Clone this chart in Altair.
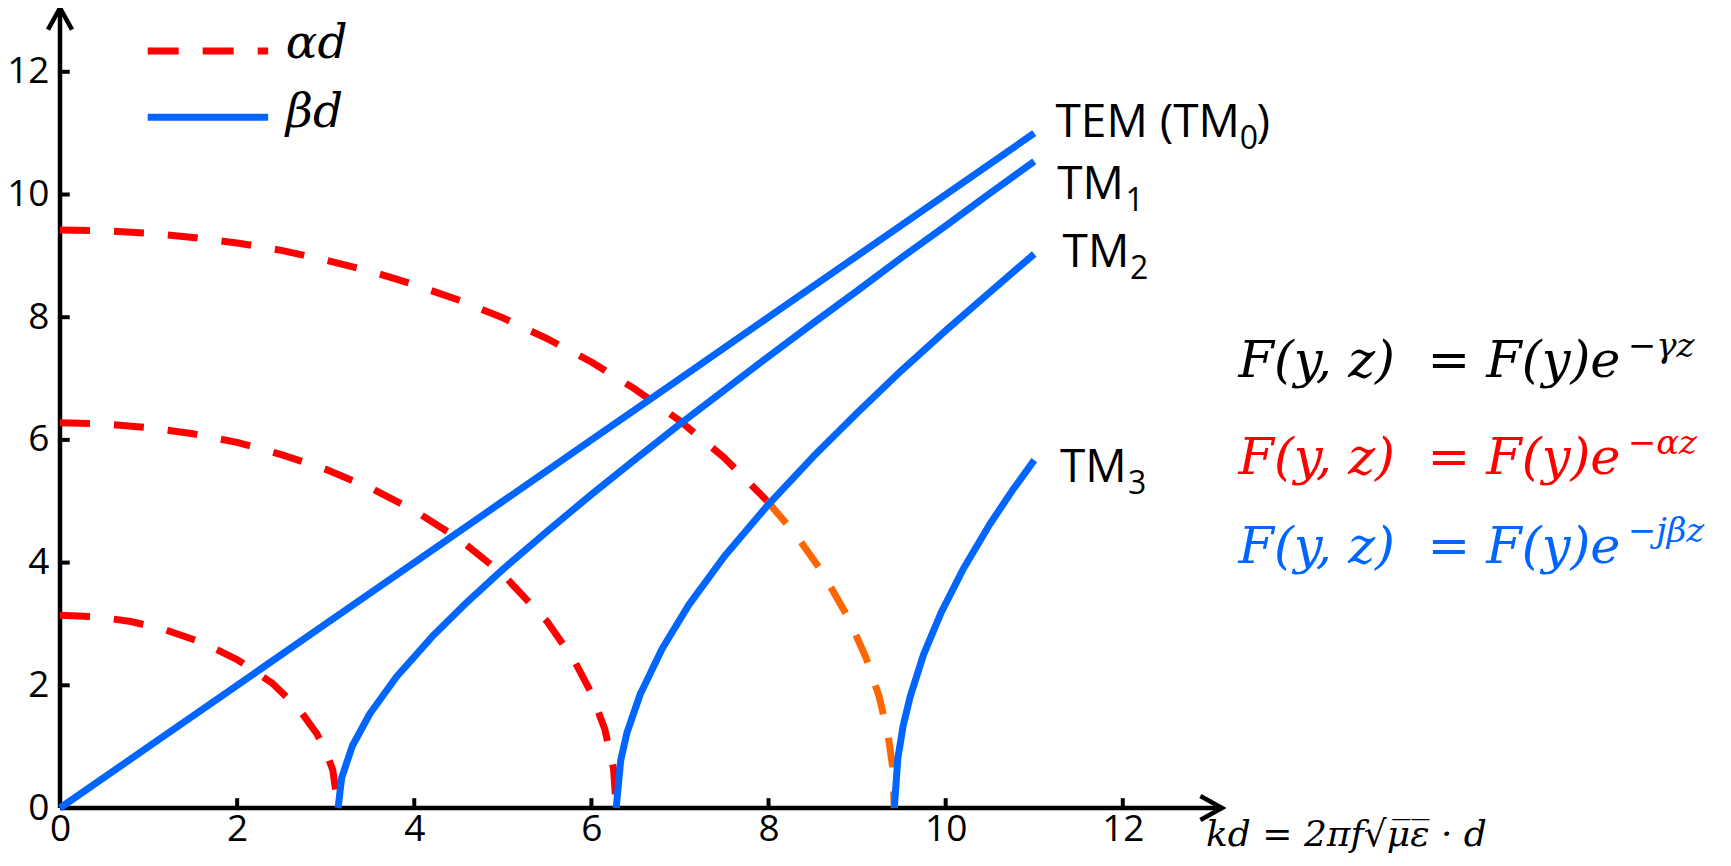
import altair as alt
import pandas as pd

# ---------------- values ----------------
# alpha*d branches (dashed)
ad1_kd = [0.0, 0.4, 0.8, 1.2, 1.6, 2.0, 2.4, 2.7, 2.9, 3.0, 3.08, 3.14]
ad1_v = [3.14, 3.12, 3.04, 2.90, 2.70, 2.42, 2.03, 1.61, 1.21, 0.93, 0.62, 0.0]
ad2_kd = [0.0, 0.5, 1.0, 1.5, 2.0, 2.5, 3.0, 3.5, 4.0, 4.5, 5.0, 5.5, 5.8, 6.0, 6.15, 6.25, 6.28]
ad2_v = [6.28, 6.26, 6.20, 6.10, 5.96, 5.76, 5.52, 5.22, 4.85, 4.39, 3.81, 3.04, 2.42, 1.87, 1.29, 0.64, 0.0]
ad3_kd = [0.0, 0.5, 1.0, 1.5, 2.0, 2.5, 3.0, 3.5, 4.0, 4.5, 5.0, 5.5, 6.0, 6.5, 7.0, 7.5, 7.98]
ad3_v = [9.42, 9.41, 9.37, 9.30, 9.21, 9.09, 8.93, 8.75, 8.53, 8.28, 7.99, 7.65, 7.27, 6.82, 6.31, 5.71, 5.01]
ad3o_kd = [7.98, 8.3, 8.6, 8.9, 9.1, 9.25, 9.35, 9.4, 9.42]
ad3o_v = [5.01, 4.47, 3.86, 3.10, 2.45, 1.81, 1.19, 0.68, 0.0]

# beta*d branches (solid)
tem_kd = [0, 1, 2, 3, 4, 5, 6, 7, 8, 9, 10, 11]
tem_v = [0, 1, 2, 3, 4, 5, 6, 7, 8, 9, 10, 11]
tm1_kd = [3.14, 3.18, 3.3, 3.5, 3.8, 4.2, 4.6, 5.0, 5.5, 6.0, 6.5, 7.0, 7.5, 8.0, 8.5, 9.0, 9.5, 10.0, 10.5, 11.0]
tm1_v = [0.0, 0.49, 1.01, 1.54, 2.14, 2.79, 3.36, 3.89, 4.51, 5.11, 5.69, 6.26, 6.81, 7.36, 7.90, 8.43, 8.97, 9.49, 10.02, 10.54]
tm2_kd = [6.28, 6.33, 6.4, 6.55, 6.8, 7.1, 7.5, 8.0, 8.5, 9.0, 9.5, 10.0, 10.5, 11.0]
tm2_v = [0.0, 0.77, 1.22, 1.85, 2.60, 3.31, 4.10, 4.95, 5.72, 6.44, 7.13, 7.78, 8.41, 9.03]
tm3_kd = [9.42, 9.46, 9.52, 9.6, 9.75, 9.95, 10.2, 10.5, 10.75, 11.0]
tm3_v = [0.0, 0.81, 1.34, 1.82, 2.50, 3.19, 3.90, 4.63, 5.17, 5.67]

# axis ticks
x_ticks = [0, 2, 4, 6, 8, 10, 12]
y_ticks = [0, 2, 4, 6, 8, 10, 12]
x_max = 13.12
y_max = 13.04

# mode labels
mode_main = ["TEM (TM", "TM", "TM", "TM"]
mode_x = [11.24, 11.26, 11.32, 11.29]
mode_y = [11.17, 10.15, 9.05, 5.54]
mode_sub = ["0", "1", "2", "3"]
mode_sub_x = [13.32, 12.03, 12.08, 12.06]
mode_sub_y = [10.91, 9.89, 8.79, 5.28]
mode_close_x = 13.51

# equations
NB = "\u00a0"
eq_main = ["F(y," + NB + "z)" + NB + NB + "=" + NB + "F(y)e"] * 3
eq_sup = ["\u2212\u03b3z", "\u2212\u03b1z", "\u2212j\u03b2z"]
eq_color = ["#000000", "#FF0000", "#0066FF"]
eq_y = [7.02, 5.44, 4.0]
eq_x_end = 17.62
eq_sup_x = 17.70
eq_sup_rise = 0.33

# legend
leg_labels = ["\u03b1d", "\u03b2d"]
leg_y_line = [12.34, 11.26]
leg_y_text = [12.22, 11.10]
leg_x0, leg_x1, leg_xt = 0.99, 2.35, 2.55

RED, ORANGE, BLUE = "#FF0000", "#FF6600", "#0066FF"

X = alt.Scale(domain=[0, x_max], nice=False, zero=False)
Y = alt.Scale(domain=[0, y_max], nice=False, zero=False)
X_AXIS = alt.Axis(values=x_ticks, domain=False, ticks=False, grid=False, labelFont="Open Sans",
                  labelFontSize=37, labelColor="black", labelPadding=3, title=None,
                  labelFlush=False, labelOverlap=False, format="d")
Y_AXIS = alt.Axis(values=y_ticks, domain=False, ticks=False, grid=False, labelFont="Open Sans",
                  labelFontSize=37, labelColor="black", labelPadding=11, title=None,
                  labelFlush=False, labelOverlap=False, format="d")


def xe(field):
    return alt.X(field, scale=X, axis=X_AXIS, title=None)


def ye(field):
    return alt.Y(field, scale=Y, axis=Y_AXIS, title=None)


def series_df(pairs):
    frames = []
    for name, xs, ys in pairs:
        frames.append(pd.DataFrame({"series": name, "kd": xs, "v": ys, "ord": list(range(len(xs)))}))
    return pd.concat(frames, ignore_index=True)


def line_layer(df, color, dash=None):
    kw = dict(color=color, strokeWidth=7, strokeCap="butt", strokeJoin="round")
    if dash:
        kw["strokeDash"] = dash
    return alt.Chart(df).mark_line(**kw).encode(
        x=xe("kd:Q"), y=ye("v:Q"), detail="series:N", order="ord:Q")


red_df = series_df([("a1", ad1_kd, ad1_v), ("a2", ad2_kd, ad2_v), ("a3", ad3_kd, ad3_v)])
orange_df = series_df([("a3o", ad3o_kd, ad3o_v)])
blue_df = series_df([("tem", tem_kd, tem_v), ("tm1", tm1_kd, tm1_v), ("tm2", tm2_kd, tm2_v), ("tm3", tm3_kd, tm3_v)])

DASH = [30, 24]
red_layer = line_layer(red_df, RED, DASH)
orange_layer = line_layer(orange_df, ORANGE, DASH)
blue_layer = line_layer(blue_df, BLUE)

# axis lines
axes_df = pd.DataFrame({"x1": [0, 0], "x2": [x_max, 0], "y1": [0, 0], "y2": [0, y_max]})
axes_layer = alt.Chart(axes_df).mark_rule(color="black", strokeWidth=4.5).encode(
    x=xe("x1:Q"), x2="x2:Q", y=ye("y1:Q"), y2="y2:Q")

# inward ticks
xt_df = pd.DataFrame({"t": x_ticks[1:], "a": 0.0, "b": 0.16})
yt_df = pd.DataFrame({"t": y_ticks[1:], "a": 0.0, "b": 0.11})
xtick_layer = alt.Chart(xt_df).mark_rule(color="black", strokeWidth=4).encode(
    x=xe("t:Q"), y=ye("a:Q"), y2="b:Q")
ytick_layer = alt.Chart(yt_df).mark_rule(color="black", strokeWidth=4).encode(
    y=ye("t:Q"), x=xe("a:Q"), x2="b:Q")

# arrow heads
up_df = pd.DataFrame({"x": [0.0], "y": [y_max]})
right_df = pd.DataFrame({"x": [x_max], "y": [0.0]})
arrow_up = alt.Chart(up_df).mark_point(shape="M-0.5,0.9L0,0L0.5,0.9", size=2304, filled=False,
                                       color="black", strokeWidth=4.5, opacity=1, strokeJoin="miter").encode(
    x=xe("x:Q"), y=ye("y:Q"))
arrow_right = alt.Chart(right_df).mark_point(shape="M-0.9,-0.5L0,0L-0.9,0.5", size=2304, filled=False,
                                             color="black", strokeWidth=4.5, opacity=1, strokeJoin="miter").encode(
    x=xe("x:Q"), y=ye("y:Q"))

# legend
leg_red = alt.Chart(pd.DataFrame({"a": [leg_x0], "b": [leg_x1], "y": [leg_y_line[0]]})).mark_rule(
    color=RED, strokeWidth=7, strokeDash=[31, 24]).encode(x=xe("a:Q"), x2="b:Q", y=ye("y:Q"))
leg_blue = alt.Chart(pd.DataFrame({"a": [leg_x0], "b": [leg_x1], "y": [leg_y_line[1]]})).mark_rule(
    color=BLUE, strokeWidth=7).encode(x=xe("a:Q"), x2="b:Q", y=ye("y:Q"))
leg_text = alt.Chart(pd.DataFrame({"t": leg_labels, "x": [leg_xt, leg_xt], "y": leg_y_text})).mark_text(
    font="DejaVu Serif", fontStyle="italic", fontSize=47, align="left", baseline="alphabetic", color="black").encode(
    x=xe("x:Q"), y=ye("y:Q"), text="t:N")

# mode labels
mode_text = alt.Chart(pd.DataFrame({"t": mode_main, "x": mode_x, "y": mode_y})).mark_text(
    font="Open Sans", fontSize=46, align="left", baseline="middle", color="black").encode(
    x=xe("x:Q"), y=ye("y:Q"), text="t:N")
mode_subs = alt.Chart(pd.DataFrame({"t": mode_sub, "x": mode_sub_x, "y": mode_sub_y})).mark_text(
    font="Open Sans", fontSize=32, align="left", baseline="middle", color="black").encode(
    x=xe("x:Q"), y=ye("y:Q"), text="t:N")
mode_close = alt.Chart(pd.DataFrame({"t": [")"], "x": [mode_close_x], "y": [mode_y[0]]})).mark_text(
    font="Open Sans", fontSize=46, align="left", baseline="middle", color="black").encode(
    x=xe("x:Q"), y=ye("y:Q"), text="t:N")

# equations
eq_layers = []
for m, s, c, yy in zip(eq_main, eq_sup, eq_color, eq_y):
    eq_layers.append(alt.Chart(pd.DataFrame({"t": [m], "x": [eq_x_end], "y": [yy]})).mark_text(
        font="DejaVu Serif", fontStyle="italic", fontSize=51, align="right", baseline="alphabetic", color=c).encode(
        x=xe("x:Q"), y=ye("y:Q"), text="t:N"))
    eq_layers.append(alt.Chart(pd.DataFrame({"t": [s], "x": [eq_sup_x], "y": [yy + eq_sup_rise]})).mark_text(
        font="DejaVu Serif", fontStyle="italic", fontSize=34, align="left", baseline="alphabetic", color=c).encode(
        x=xe("x:Q"), y=ye("y:Q"), text="t:N"))

# x-axis title
xtitle = alt.Chart(pd.DataFrame({"t": ["kd" + NB + "=" + NB + "2\u03c0f\u221a\u03bc\u0305\u03b5\u0305" + NB + "\u00b7" + NB + "d"],
                                 "x": [12.94], "y": [-0.62]})).mark_text(
    font="DejaVu Serif", fontStyle="italic", fontSize=36, align="left", baseline="alphabetic", color="black").encode(
    x=xe("x:Q"), y=ye("y:Q"), text="t:N")

chart = alt.layer(
    axes_layer, xtick_layer, ytick_layer, arrow_up, arrow_right,
    red_layer, orange_layer, blue_layer,
    leg_red, leg_blue, leg_text,
    mode_text, mode_subs, mode_close,
    *eq_layers, xtitle,
).properties(
    width=1162, height=800,
    padding={"left": 52, "top": 0, "right": 500, "bottom": 48},
    autosize=alt.AutoSizeParams(type="none"),
).configure_view(stroke=None)

chart.save("out.html", embed_options={"renderer": "svg", "actions": False})
